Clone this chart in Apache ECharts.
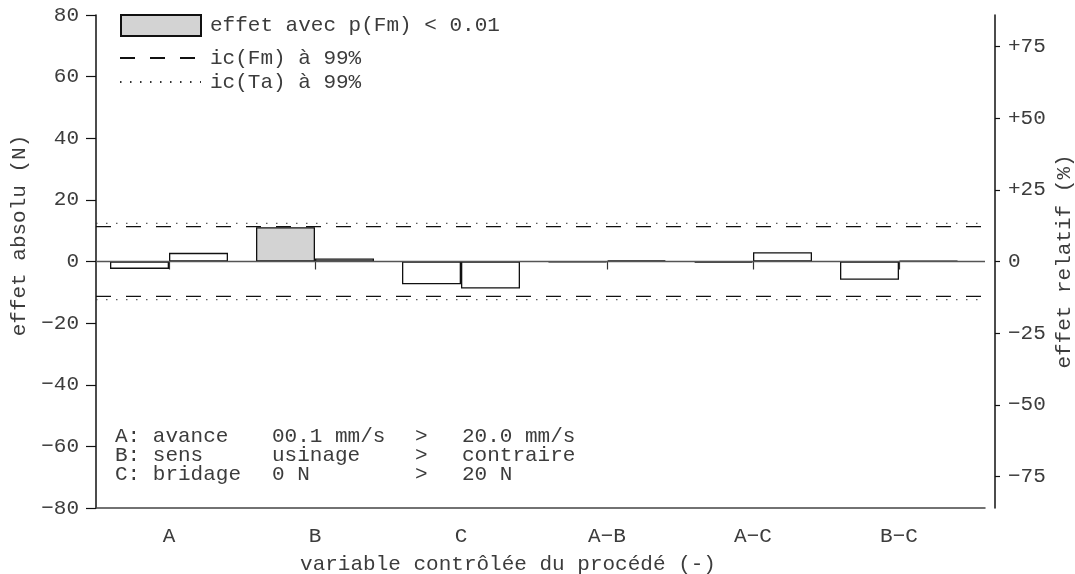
<!DOCTYPE html>
<html>
<head>
<meta charset="utf-8">
<script src="https://cdn.jsdelivr.net/npm/echarts@6/dist/echarts.min.js"></script>
<style>
    html, body { margin: 0; padding: 0; background: #fff; }
    #chart { width: 1075px; height: 574px; }
</style>
</head>
<body>
<div id="chart"></div>
<script>
    // effets des variables (N) : barre gauche / barre droite pour chaque variable
    const categories = ['A', 'B', 'C', 'A−B', 'A−C', 'B−C'];
    const leftEffects = [-2.4, 11.1, -7.4, -0.3, -0.4, -5.9];
    const rightEffects = [2.8, 1.0, -8.8, 0.4, 3.0, 0.3];
    const leftSignif = [false, true, false, false, false, false];
    const rightSignif = [false, false, false, false, false, false];

    // intervalles de confiance (N)
    const icFm = 11.3;
    const icTa = 12.4;

    // axe relatif (%)
    const relMax = 86;
    const relTicks = [-75, -50, -25, 0, 25, 50, 75];
    const relTickLabels = ['−75', '−50', '−25', '0', '+25', '+50', '+75'];
    const absTickLabels = ['−80', '−60', '−40', '−20', '0', '20', '40', '60', '80'];

    // legende du plan
    const factorNames = ['A: avance', 'B: sens', 'C: bridage'];
    const lowLevels = ['00.1 mm/s', 'usinage', '0 N'];
    const highLevels = ['20.0 mm/s', 'contraire', '20 N'];

    const FONT = '"Liberation Mono", "DejaVu Sans Mono", monospace';
    const TXT_COLOR = '#3c3c3c';
    const txt = { fontFamily: FONT, fontSize: 21, color: TXT_COLOR };
    const SIG = 'effet avec p(Fm) < 0.01';

    const chart = echarts.init(document.getElementById('chart'));

    function barData(values, signif, wantSig) {
        return values.map((v, i) => (signif[i] === wantSig ? v : '-'));
    }
    function hline(name, v, style) {
        return {
            name: name, type: 'line', xAxisIndex: 0, yAxisIndex: 0,
            symbol: 'none', silent: true, z: 5,
            data: [[0, v], [1, v]],
            itemStyle: { color: style.color },
            lineStyle: style
        };
    }
    const barStyle = { color: '#fff', borderColor: '#111', borderWidth: 1.3 };
    const sigStyle = { color: '#d3d3d3', borderColor: '#111', borderWidth: 1.3 };
    const dashFm = { color: '#111', width: 1.2, type: [15, 15] };
    const dotTa = { color: '#333', width: 1, type: [1.5, 8.5] };

    const graphics = [];
    const colX = [115, 272, 415, 462];
    factorNames.forEach((f, i) => {
        const y = 436 + i * 19;
        [f, lowLevels[i], '>', highLevels[i]].forEach((s, j) => {
            graphics.push({
                type: 'text', x: colX[j], y: y,
                style: { text: s, fontFamily: FONT, fontSize: 21, fill: TXT_COLOR, verticalAlign: 'middle' }
            });
        });
    });

    const legendText = Object.assign({ padding: [0, 0, 0, 4] }, txt);

    chart.setOption({
        animation: false,
        grid: [
            { left: 96, right: 90, top: 15, bottom: 66, outerBoundsMode: 'none' },
            { left: 96, width: 876, top: 15, bottom: 66, outerBoundsMode: 'none' }
        ],
        legend: [
            {
                data: [{ name: SIG, icon: 'rect' }], left: 120, top: 14, padding: 0,
                itemWidth: 80, itemHeight: 21, selectedMode: false,
                textStyle: legendText
            },
            {
                data: ['ic(Fm) à 99%'], left: 119, top: 47.5, padding: 0,
                itemWidth: 81, itemHeight: 14, selectedMode: false,
                itemStyle: { opacity: 0 },
                textStyle: legendText
            },
            {
                data: ['ic(Ta) à 99%'], left: 119, top: 71.5, padding: 0,
                itemWidth: 81, itemHeight: 14, selectedMode: false,
                itemStyle: { opacity: 0 },
                textStyle: legendText
            }
        ],
        xAxis: [
            {
                gridIndex: 0, type: 'value', min: 0, max: 1,
                axisLine: { show: true, onZero: false, lineStyle: { color: '#444', width: 1.5 } },
                axisTick: { show: false }, axisLabel: { show: false }, splitLine: { show: false }
            },
            {
                gridIndex: 1, type: 'category', data: categories,
                axisLine: { show: false },
                axisTick: { show: true, alignWithLabel: true, length: 8, lineStyle: { color: '#333', width: 1.2 } },
                axisLabel: Object.assign({ margin: 18 }, txt),
                name: 'variable contrôlée du procédé (-)',
                nameLocation: 'middle', nameGap: 46,
                nameTextStyle: Object.assign({ padding: [0, 52, 0, 0] }, txt)
            }
        ],
        yAxis: [
            {
                gridIndex: 0, type: 'value', position: 'left',
                min: -80, max: 80, interval: 20,
                axisLine: { show: true, lineStyle: { color: '#111', width: 1.5 } },
                axisTick: { show: true, length: 10, lineStyle: { color: '#111', width: 1.2 } },
                axisLabel: Object.assign({
                    margin: 17,
                    formatter: v => absTickLabels[(v + 80) / 20]
                }, txt),
                splitLine: { show: false },
                name: 'effet absolu (N)', nameLocation: 'middle', nameGap: 64, nameRotate: 90,
                nameTextStyle: Object.assign({ padding: [0, 0, 0, 52] }, txt)
            },
            {
                gridIndex: 0, type: 'value', position: 'right', offset: 10,
                min: -relMax, max: relMax,
                axisLine: { show: true, lineStyle: { color: '#111', width: 1.5 } },
                axisTick: { show: true, length: 5, customValues: relTicks, lineStyle: { color: '#111', width: 1.2 } },
                axisLabel: Object.assign({
                    margin: 13, customValues: relTicks,
                    formatter: v => relTickLabels[relTicks.indexOf(Math.round(v))]
                }, txt),
                splitLine: { show: false },
                name: 'effet relatif (%)', nameLocation: 'middle', nameGap: 59, nameRotate: 90,
                nameMoveOverlap: false,
                nameTextStyle: txt
            },
            {
                gridIndex: 1, type: 'value', min: -80, max: 80, show: false
            }
        ],
        series: [
            {
                name: 'gauche', type: 'bar', xAxisIndex: 1, yAxisIndex: 2, stack: 'g',
                barWidth: 59, barGap: '0%', itemStyle: barStyle,
                data: barData(leftEffects, leftSignif, false)
            },
            {
                name: SIG, type: 'bar', xAxisIndex: 1, yAxisIndex: 2, stack: 'g',
                barWidth: 59, barGap: '0%', itemStyle: sigStyle,
                data: barData(leftEffects, leftSignif, true)
            },
            {
                name: 'droite', type: 'bar', xAxisIndex: 1, yAxisIndex: 2, stack: 'd',
                barWidth: 59, barGap: '0%', itemStyle: barStyle,
                data: barData(rightEffects, rightSignif, false)
            },
            {
                name: SIG, type: 'bar', xAxisIndex: 1, yAxisIndex: 2, stack: 'd',
                barWidth: 59, barGap: '0%', itemStyle: sigStyle,
                data: barData(rightEffects, rightSignif, true)
            },
            hline('zero', 0, { color: '#555', width: 1.5, type: 'solid' }),
            hline('ic(Fm) à 99%', icFm, dashFm),
            hline('ic(Fm) à 99%', -icFm, dashFm),
            hline('ic(Ta) à 99%', icTa, dotTa),
            hline('ic(Ta) à 99%', -icTa, dotTa)
        ],
        graphic: graphics
    });
</script>
</body>
</html>
